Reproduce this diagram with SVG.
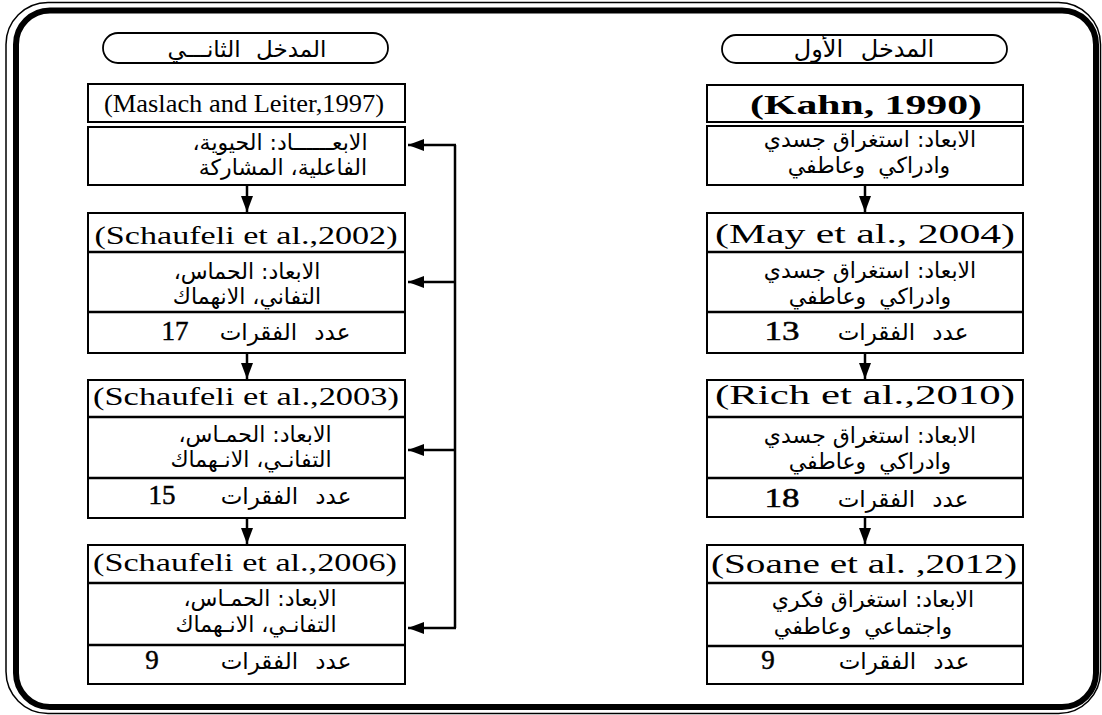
<svg xmlns="http://www.w3.org/2000/svg" width="1102" height="715" viewBox="0 0 1102 715">
<style>
.box{fill:#fff;stroke:#000;stroke-width:2}
.div{stroke:#000;stroke-width:2.5}
.pill{fill:#fff;stroke:#000;stroke-width:1.8}
.lat{font-family:"Liberation Serif","Times New Roman",serif;fill:#000;text-anchor:middle}
.ar{font-family:"DejaVu Sans","Noto Sans",sans-serif;fill:#000;text-anchor:middle;direction:rtl;unicode-bidi:embed}
.num{font-family:"Liberation Serif","Times New Roman",serif;fill:#000;stroke:#000;stroke-width:0.5;text-anchor:middle;font-size:27px}
.ln{fill:none;stroke:#000;stroke-width:2.5}
</style>
<defs>
<marker id="ah" viewBox="0 0 16 12" refX="16" refY="6" markerWidth="16" markerHeight="12" markerUnits="userSpaceOnUse" orient="auto">
<path d="M0,0 L16,6 L0,12 Z" fill="#000"/>
</marker>
</defs>
<rect x="6" y="2.5" width="1094.5" height="711" rx="42" fill="#fff" stroke="#000" stroke-width="1.5"/>
<rect x="16" y="10.5" width="1080" height="696.5" rx="34" fill="#fff" stroke="#000" stroke-width="6"/>

<g id="header-left">
<rect class="pill" x="103" y="33" width="285" height="30" rx="15"/>
<text class="ar" x="247" y="57" font-size="23" word-spacing="8">المدخل الثانـــي</text>
</g>
<g id="header-right">
<rect class="pill" x="722" y="35" width="285" height="28" rx="14"/>
<text class="ar" x="864" y="57" font-size="24" word-spacing="10">المدخل الأول</text>
</g>

<g id="maslach">
<rect class="box" x="88" y="84" width="317" height="38"/>
<text class="lat" x="244" y="112" font-size="25" textLength="280" lengthAdjust="spacingAndGlyphs">(Maslach and Leiter,1997)</text>
</g>
<g id="maslach-dims">
<rect class="box" x="88" y="127" width="317" height="58"/>
<text class="ar" x="280" y="150" font-size="22">الابعــــــاد: الحيوية،</text>
<text class="ar" x="283" y="175" font-size="22">الفاعلية، المشاركة</text>
</g>

<g id="schaufeli2002">
<rect class="box" x="88" y="213" width="317" height="140"/>
<line class="div" x1="88" y1="252" x2="405" y2="252"/>
<line class="div" x1="88" y1="312" x2="405" y2="312"/>
<text class="lat" x="246" y="244" font-size="25" textLength="303" lengthAdjust="spacingAndGlyphs">(Schaufeli et al.,2002)</text>
<text class="ar" x="247" y="279" font-size="22">الابعاد: الحماس،</text>
<text class="ar" x="247" y="304" font-size="22">التفاني، الانهماك</text>
<text class="num" x="175" y="340">17</text>
<text class="ar" x="285" y="340" font-size="23" word-spacing="10">عدد الفقرات</text>
</g>

<g id="schaufeli2003">
<rect class="box" x="88" y="380" width="317" height="138"/>
<line class="div" x1="88" y1="417" x2="405" y2="417"/>
<line class="div" x1="88" y1="478" x2="405" y2="478"/>
<text class="lat" x="246" y="405" font-size="25" textLength="306" lengthAdjust="spacingAndGlyphs">(Schaufeli et al.,2003)</text>
<text class="ar" x="255" y="442" font-size="22">الابعاد: الحمـاس،</text>
<text class="ar" x="251" y="467" font-size="22">التفانـي، الانـهماك</text>
<text class="num" x="162" y="504">15</text>
<text class="ar" x="286" y="504" font-size="23" word-spacing="10">عدد الفقرات</text>
</g>

<g id="schaufeli2006">
<rect class="box" x="88" y="545" width="317" height="139"/>
<line class="div" x1="88" y1="583" x2="405" y2="583"/>
<line class="div" x1="88" y1="645" x2="405" y2="645"/>
<text class="lat" x="245" y="571" font-size="25" textLength="304" lengthAdjust="spacingAndGlyphs">(Schaufeli et al.,2006)</text>
<text class="ar" x="260" y="606" font-size="22">الابعاد: الحمـاس،</text>
<text class="ar" x="256" y="632" font-size="22">التفانـي، الانـهماك</text>
<text class="num" x="152" y="669">9</text>
<text class="ar" x="286" y="669" font-size="23" word-spacing="10">عدد الفقرات</text>
</g>

<g id="kahn">
<rect class="box" x="707" y="85" width="316" height="37"/>
<text class="lat" x="866" y="114" font-size="27" font-weight="bold" textLength="232" lengthAdjust="spacingAndGlyphs">(Kahn, 1990)</text>
</g>
<g id="kahn-dims">
<rect class="box" x="707" y="126" width="316" height="59"/>
<text class="ar" x="870" y="147" font-size="22">الابعاد: استغراق جسدي</text>
<text class="ar" x="869" y="173" font-size="22" word-spacing="6">وادراكي وعاطفي</text>
</g>

<g id="may2004">
<rect class="box" x="707" y="213" width="316" height="140"/>
<line class="div" x1="707" y1="252" x2="1023" y2="252"/>
<line class="div" x1="707" y1="312" x2="1023" y2="312"/>
<text class="lat" x="865" y="243" font-size="27" textLength="300" lengthAdjust="spacingAndGlyphs">(May et al., 2004)</text>
<text class="ar" x="870" y="278" font-size="22">الابعاد: استغراق جسدي</text>
<text class="ar" x="870" y="304" font-size="22" word-spacing="6">وادراكي وعاطفي</text>
<text class="num" x="782" y="340" textLength="35" lengthAdjust="spacingAndGlyphs">13</text>
<text class="ar" x="903" y="340" font-size="23" word-spacing="10">عدد الفقرات</text>
</g>

<g id="rich2010">
<rect class="box" x="707" y="380" width="316" height="137"/>
<line class="div" x1="707" y1="417" x2="1023" y2="417"/>
<line class="div" x1="707" y1="478" x2="1023" y2="478"/>
<text class="lat" x="865" y="404" font-size="27" textLength="300" lengthAdjust="spacingAndGlyphs">(Rich et al.,2010)</text>
<text class="ar" x="870" y="443" font-size="22">الابعاد: استغراق جسدي</text>
<text class="ar" x="870" y="469" font-size="22" word-spacing="6">وادراكي وعاطفي</text>
<text class="num" x="782" y="507" textLength="35" lengthAdjust="spacingAndGlyphs">18</text>
<text class="ar" x="903" y="507" font-size="23" word-spacing="10">عدد الفقرات</text>
</g>

<g id="soane2012">
<rect class="box" x="707" y="545" width="316" height="139"/>
<line class="div" x1="707" y1="583" x2="1023" y2="583"/>
<line class="div" x1="707" y1="646" x2="1023" y2="646"/>
<text class="lat" x="864" y="573" font-size="27" textLength="306" lengthAdjust="spacingAndGlyphs">(Soane et al. ,2012)</text>
<text class="ar" x="873" y="607" font-size="22">الابعاد: استغراق فكري</text>
<text class="ar" x="863" y="634" font-size="22" word-spacing="6">واجتماعي وعاطفي</text>
<text class="num" x="768" y="669">9</text>
<text class="ar" x="904" y="669" font-size="23" word-spacing="10">عدد الفقرات</text>
</g>

<g id="connectors">
<line class="ln" x1="247" y1="185" x2="247" y2="212" marker-end="url(#ah)"/>
<line class="ln" x1="247" y1="353" x2="247" y2="379" marker-end="url(#ah)"/>
<line class="ln" x1="247" y1="518" x2="247" y2="544" marker-end="url(#ah)"/>
<line class="ln" x1="865" y1="185" x2="865" y2="212" marker-end="url(#ah)"/>
<line class="ln" x1="865" y1="353" x2="865" y2="379" marker-end="url(#ah)"/>
<line class="ln" x1="865" y1="517" x2="865" y2="544" marker-end="url(#ah)"/>
<line class="ln" x1="455" y1="145" x2="455" y2="628"/>
<line class="ln" x1="456" y1="145" x2="408" y2="145" marker-end="url(#ah)"/>
<line class="ln" x1="456" y1="282" x2="408" y2="282" marker-end="url(#ah)"/>
<line class="ln" x1="456" y1="450" x2="408" y2="450" marker-end="url(#ah)"/>
<line class="ln" x1="456" y1="628" x2="408" y2="628" marker-end="url(#ah)"/>
</g>
</svg>
